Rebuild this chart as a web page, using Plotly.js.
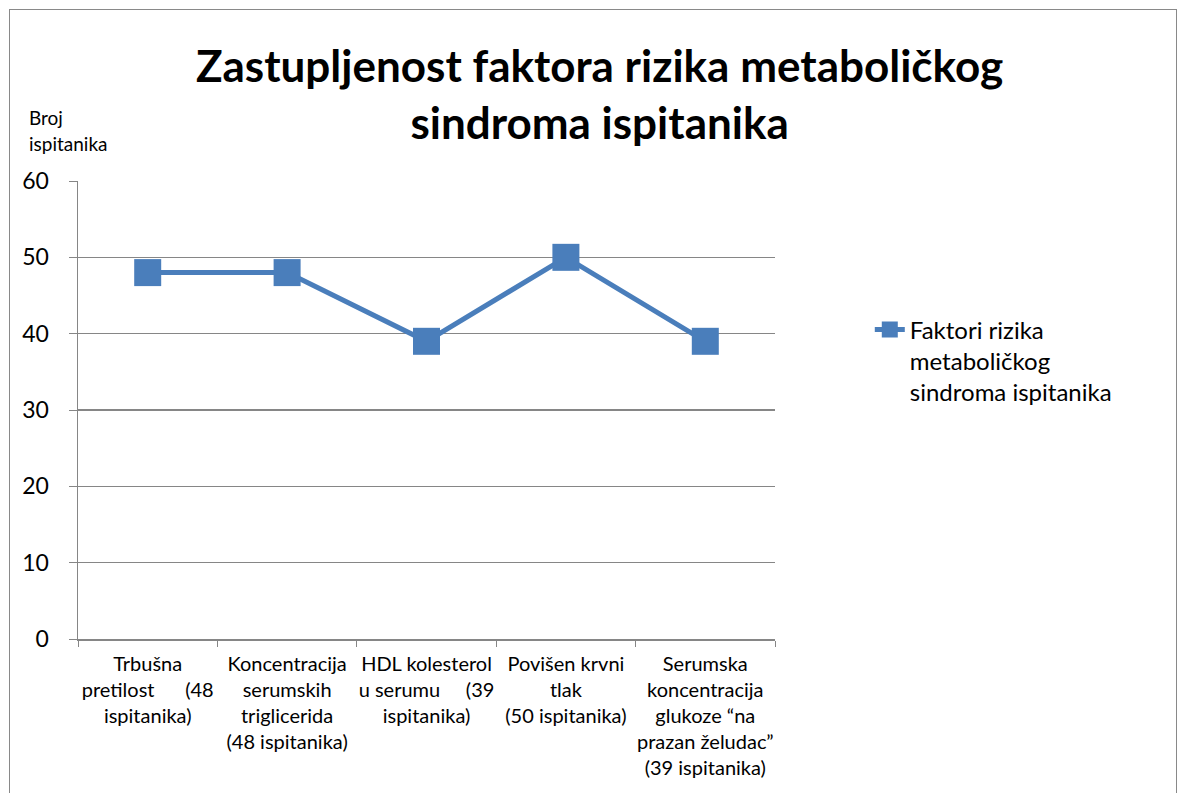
<!DOCTYPE html>
<html>
<head>
<meta charset="utf-8">
<script src="https://cdn.plot.ly/plotly-3.0.1.min.js"></script>
<style>
html,body{margin:0;padding:0;background:#fff;}
#wrap{position:relative;width:1178px;height:793px;overflow:hidden;}
#chart{position:absolute;left:0;top:0;width:1178px;height:793px;}
#frame{position:absolute;left:9px;top:9px;width:1166px;height:800px;border:1.5px solid #898989;pointer-events:none;}
</style>
</head>
<body>
<div id="wrap"><div id="chart"></div><div id="frame"></div></div>
<script>
const categories = [
  "Trbušna<br>pretilost\u00a0\u00a0\u00a0\u00a0\u00a0\u00a0(48<br>ispitanika)",
  "Koncentracija<br>serumskih<br>triglicerida<br>(48 ispitanika)",
  "HDL kolesterol<br>u serumu\u00a0\u00a0\u00a0\u00a0\u00a0(39<br>ispitanika)",
  "Povišen krvni<br>tlak<br>(50 ispitanika)",
  "Serumska<br>koncentracija<br>glukoze “na<br>prazan želudac”<br>(39 ispitanika)"
];
const values = [48, 48, 39, 50, 39];
const seriesName = "Faktori rizika<br>metaboličkog<br>sindroma ispitanika";
const titleText = "Zastupljenost faktora rizika metaboličkog<br>sindroma ispitanika";
const yTitleLines = ["Broj", "ispitanika"];

const font = "Lato, 'Open Sans', sans-serif";
const blue = "#4A7EBB";

const trace = {
  x: categories, y: values, type: "scatter", mode: "lines+markers",
  name: seriesName,
  line: {color: blue, width: 5},
  marker: {symbol: "square", size: 27, color: blue}
};

const layout = {
  width: 1178, height: 793,
  margin: {l: 78, r: 403, t: 181, b: 154},
  paper_bgcolor: "rgba(0,0,0,0)", plot_bgcolor: "#fff",
  font: {family: font, color: "#000"},
  title: {text: "<b>" + titleText + "</b>", font: {family: font, size: 44, color: "#000"},
          x: 0.509, xanchor: "center", y: 0.897, yanchor: "middle", xref: "container", yref: "container"},
  showlegend: true,
  legend: {x: 1.136, xanchor: "left", y: 0.724, yanchor: "top", valign: "top",
           font: {size: 24, family: font}, bgcolor: "rgba(0,0,0,0)"},
  xaxis: {
    type: "category", tickson: "boundaries", ticks: "outside", ticklen: 6, tickcolor: "#868686",
    showgrid: false, showline: true, linecolor: "#868686", linewidth: 1.5,
    tickfont: {size: 20, family: font}, tickangle: 0, range: [-0.5, 4.5], automargin: false,
    ticklabelstandoff: 6
  },
  yaxis: {
    range: [0, 60], dtick: 10, tick0: 0, ticks: "outside", ticklen: 8, tickcolor: "#868686",
    showgrid: true, gridcolor: "#868686", gridwidth: 1.2, showline: true, linecolor: "#868686", linewidth: 1.5,
    zeroline: false, tickfont: {size: 23, family: font}, ticklabelstandoff: 15, automargin: false
  },
  annotations: yTitleLines.map((t, i) => ({
    text: t, xref: "paper", yref: "paper", x: -0.073, y: 1.168 - i * 0.057,
    xanchor: "left", yanchor: "top", showarrow: false, font: {size: 19, family: font}
  }))
};

Plotly.newPlot("chart", [trace], layout, {displayModeBar: false, staticPlot: true});
</script>
</body>
</html>
